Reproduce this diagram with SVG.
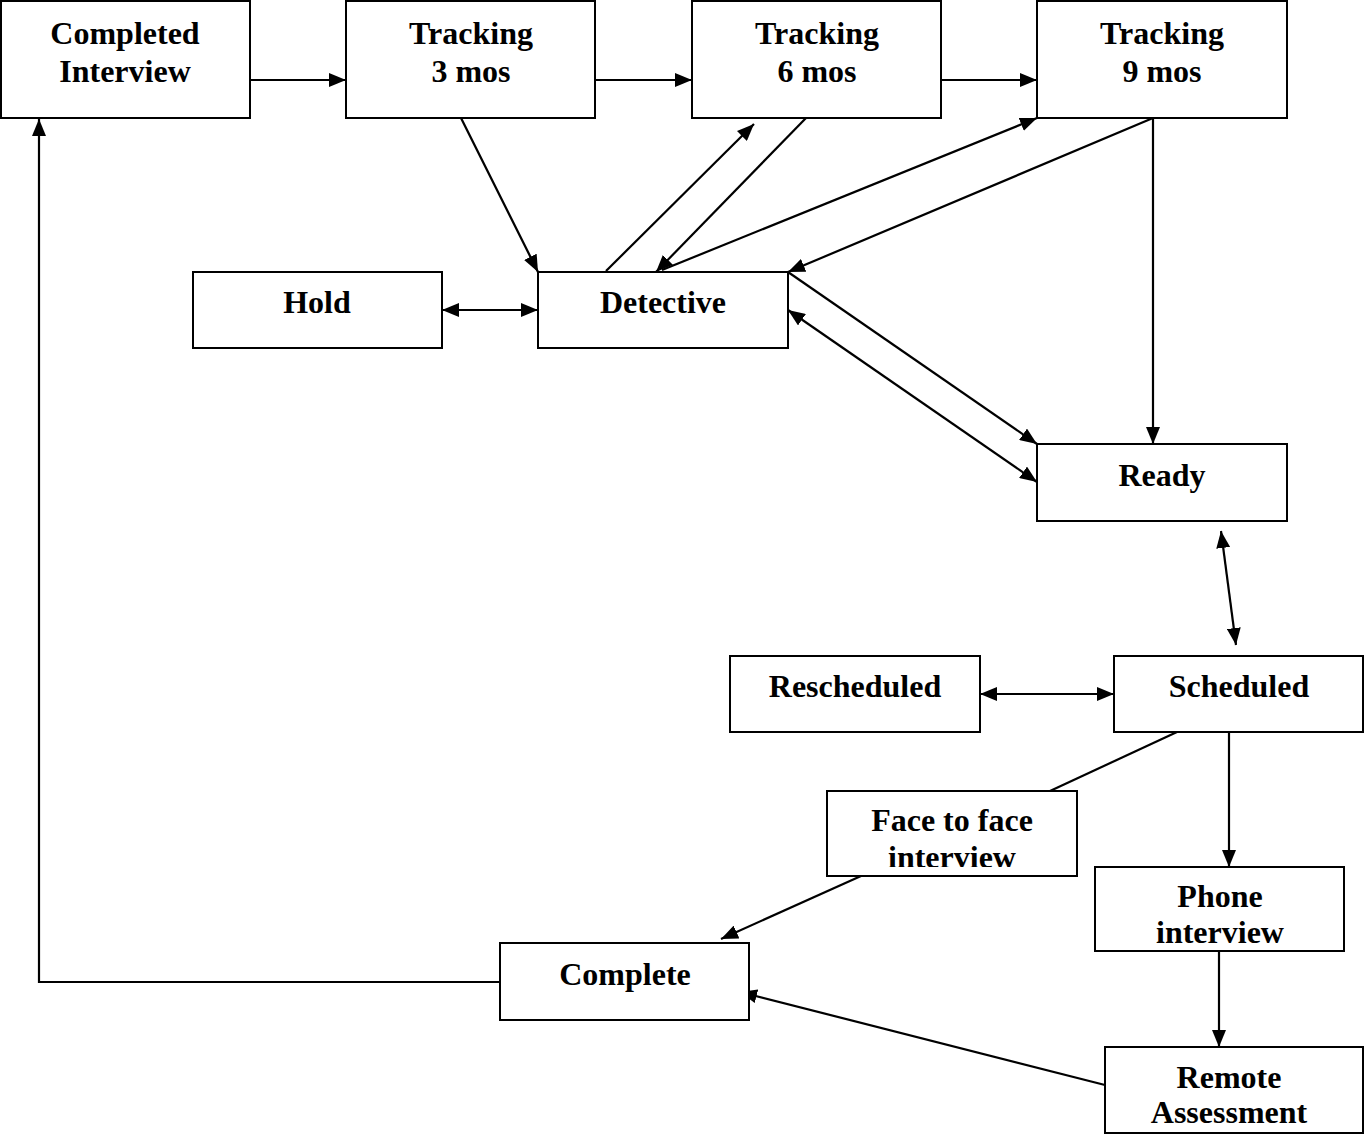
<svg xmlns="http://www.w3.org/2000/svg" width="1366" height="1135" viewBox="0 0 1366 1135">
<style>
.box{fill:#fff;stroke:#000;stroke-width:2}
.t{font-family:"Liberation Serif","Times New Roman",serif;font-weight:bold;font-size:32px;text-anchor:middle;fill:#000}
.c{fill:none;stroke:#000;stroke-width:2.2}
</style>
<defs>
<marker id="ah" viewBox="0 0 17 14" refX="17" refY="7" markerWidth="17" markerHeight="14" markerUnits="userSpaceOnUse" orient="auto-start-reverse">
<path d="M0,0 L17,7 L0,14 Z" fill="#000"/>
</marker>
<clipPath id="clipFace"><rect x="827" y="791" width="250" height="76"/></clipPath>
<clipPath id="clipPhone"><rect x="1095" y="867" width="249" height="76"/></clipPath>
<clipPath id="clipRemote"><rect x="1105" y="1047" width="258" height="76"/></clipPath>
</defs>
<rect width="1366" height="1135" fill="#fff"/>
<g id="connectors">
<line class="c" x1="250" y1="80" x2="346" y2="80" marker-end="url(#ah)"/>
<line class="c" x1="595" y1="80" x2="692" y2="80" marker-end="url(#ah)"/>
<line class="c" x1="941" y1="80" x2="1037" y2="80" marker-end="url(#ah)"/>
<line class="c" x1="461" y1="118" x2="538" y2="272" marker-end="url(#ah)"/>
<line class="c" x1="606" y1="271" x2="754" y2="124" marker-end="url(#ah)"/>
<line class="c" x1="806" y1="118" x2="656" y2="272" marker-end="url(#ah)"/>
<line class="c" x1="662" y1="270" x2="1037" y2="118" marker-end="url(#ah)"/>
<line class="c" x1="1153" y1="118" x2="788" y2="272" marker-end="url(#ah)"/>
<line class="c" x1="1153" y1="118" x2="1153" y2="444" marker-end="url(#ah)"/>
<line class="c" x1="788" y1="272" x2="1037" y2="444" marker-end="url(#ah)"/>
<line class="c" x1="788" y1="310" x2="1037" y2="482" marker-start="url(#ah)" marker-end="url(#ah)"/>
<line class="c" x1="442" y1="310" x2="538" y2="310" marker-start="url(#ah)" marker-end="url(#ah)"/>
<line class="c" x1="1221" y1="531" x2="1236" y2="645" marker-start="url(#ah)" marker-end="url(#ah)"/>
<line class="c" x1="980" y1="694" x2="1114" y2="694" marker-start="url(#ah)" marker-end="url(#ah)"/>
<line class="c" x1="1177" y1="732" x2="1050" y2="791"/>
<line class="c" x1="861" y1="876" x2="721" y2="939" marker-end="url(#ah)"/>
<line class="c" x1="1229" y1="732" x2="1229" y2="867" marker-end="url(#ah)"/>
<line class="c" x1="1219" y1="951" x2="1219" y2="1047" marker-end="url(#ah)"/>
<line class="c" x1="1105" y1="1085" x2="740" y2="992" marker-end="url(#ah)"/>
<polyline class="c" points="500,982 39,982 39,119" marker-end="url(#ah)"/>
</g>
<g id="completed-interview"><rect class="box" x="1" y="1" width="249" height="117"/><text class="t" x="125" y="44">Completed</text><text class="t" x="125" y="82">Interview</text></g>
<g id="tracking-3"><rect class="box" x="346" y="1" width="249" height="117"/><text class="t" x="471" y="44">Tracking</text><text class="t" x="471" y="82">3 mos</text></g>
<g id="tracking-6"><rect class="box" x="692" y="1" width="249" height="117"/><text class="t" x="817" y="44">Tracking</text><text class="t" x="817" y="82">6 mos</text></g>
<g id="tracking-9"><rect class="box" x="1037" y="1" width="250" height="117"/><text class="t" x="1162" y="44">Tracking</text><text class="t" x="1162" y="82">9 mos</text></g>
<g id="hold"><rect class="box" x="193" y="272" width="249" height="76"/><text class="t" x="317" y="313">Hold</text></g>
<g id="detective"><rect class="box" x="538" y="272" width="250" height="76"/><text class="t" x="663" y="313">Detective</text></g>
<g id="ready"><rect class="box" x="1037" y="444" width="250" height="77"/><text class="t" x="1162" y="486">Ready</text></g>
<g id="rescheduled"><rect class="box" x="730" y="656" width="250" height="76"/><text class="t" x="855" y="697">Rescheduled</text></g>
<g id="scheduled"><rect class="box" x="1114" y="656" width="249" height="76"/><text class="t" x="1239" y="697">Scheduled</text></g>
<g id="face-to-face"><rect class="box" x="827" y="791" width="250" height="85"/><g clip-path="url(#clipFace)"><text class="t" x="952" y="831">Face to face</text><text class="t" x="952" y="868">interview</text></g></g>
<g id="phone"><rect class="box" x="1095" y="867" width="249" height="84"/><g clip-path="url(#clipPhone)"><text class="t" x="1220" y="907">Phone</text><text class="t" x="1220" y="943">interview</text></g></g>
<g id="complete"><rect class="box" x="500" y="943" width="249" height="77"/><text class="t" x="625" y="985">Complete</text></g>
<g id="remote"><rect class="box" x="1105" y="1047" width="258" height="86"/><g clip-path="url(#clipRemote)"><text class="t" x="1229" y="1088">Remote</text><text class="t" x="1229" y="1123">Assessment</text></g></g>
</svg>
